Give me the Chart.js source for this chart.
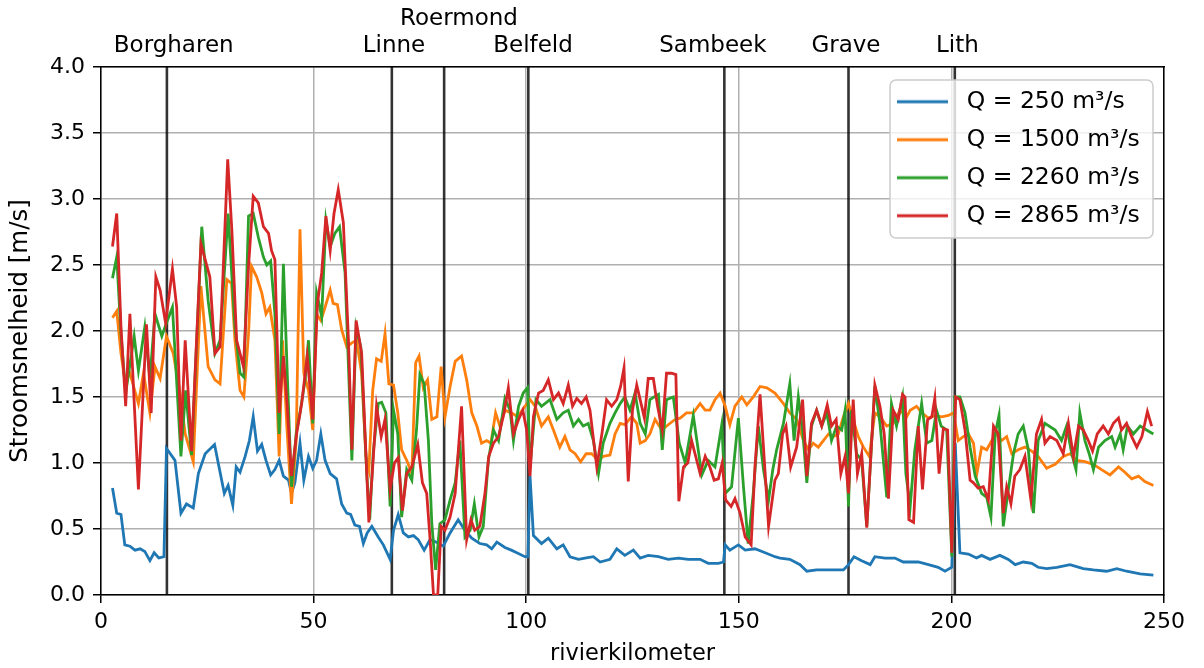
<!DOCTYPE html>
<html>
<head>
<meta charset="utf-8">
<script src="https://cdn.jsdelivr.net/npm/chart.js@4.4.1/dist/chart.umd.min.js"></script>
<style>
  html, body { margin: 0; padding: 0; background: #fff; }
  #wrap { width: 1204px; height: 668px; position: relative; }
</style>
</head>
<body>
<div id="wrap"><canvas id="myChart"></canvas></div>
<script>
// series labels and colours (matplotlib tab10)
const seriesLabels = ['Q = 250 m³/s', 'Q = 1500 m³/s', 'Q = 2260 m³/s', 'Q = 2865 m³/s']
const seriesColors = ['#1f77b4', '#ff7f0e', '#2ca02c', '#d62728']

// [rivierkilometer, stroomsnelheid m/s]
const q250 = [
    [2.7, 0.81], [3.7, 0.62], [4.7, 0.61], [5.6, 0.38], [6.8, 0.37], [8.0, 0.34], [9.2, 0.35], [10.3, 0.33],
    [11.5, 0.26], [12.5, 0.32], [13.6, 0.28], [14.8, 0.29], [15.4, 1.11], [17.4, 1.02], [18.8, 0.62], [20.1, 0.69],
    [21.7, 0.66], [22.9, 0.92], [24.5, 1.07], [26.7, 1.14], [29.0, 0.77], [29.9, 0.83], [31.0, 0.68], [31.8, 0.97],
    [32.7, 0.93], [33.9, 1.05], [34.9, 1.17], [35.8, 1.35], [36.8, 1.09], [37.8, 1.14], [38.8, 1.02], [39.9, 0.91],
    [40.9, 0.95], [41.9, 1.02], [42.9, 0.90], [44.1, 0.87], [44.8, 0.77], [45.6, 0.85], [46.8, 1.15], [47.7, 0.87],
    [48.8, 1.05], [49.8, 0.96], [50.7, 1.02], [51.7, 1.22], [52.7, 1.02], [53.9, 0.92], [55.4, 0.88], [56.6, 0.69],
    [57.8, 0.62], [58.7, 0.61], [59.7, 0.53], [60.8, 0.52], [61.7, 0.39], [62.6, 0.47], [63.7, 0.52], [65.2, 0.44],
    [66.4, 0.38], [68.0, 0.27], [68.8, 0.49], [69.9, 0.61], [71.1, 0.47], [72.3, 0.44], [73.5, 0.45], [74.6, 0.42],
    [76.0, 0.34], [77.4, 0.42], [78.9, 0.40], [80.5, 0.37], [82.1, 0.47], [84.0, 0.57], [85.6, 0.49], [87.2, 0.43],
    [89.1, 0.39], [90.7, 0.38], [91.9, 0.35], [93.1, 0.40], [95.0, 0.36], [96.5, 0.34], [97.8, 0.32], [99.7, 0.29],
    [100.4, 0.29], [100.9, 0.90], [101.7, 0.45], [103.6, 0.39], [105.2, 0.43], [107.2, 0.35], [108.7, 0.38], [110.3, 0.29],
    [112.3, 0.27], [113.8, 0.28], [115.8, 0.29], [117.4, 0.25], [119.7, 0.27], [121.3, 0.35], [123.2, 0.30], [125.2, 0.34],
    [126.8, 0.28], [128.7, 0.30], [131.1, 0.29], [133.4, 0.27], [135.8, 0.28], [138.1, 0.27], [140.9, 0.27], [142.8, 0.24],
    [145.2, 0.24], [146.4, 0.25], [146.8, 0.38], [147.9, 0.34], [149.9, 0.38], [151.5, 0.34], [153.8, 0.35], [156.2, 0.32],
    [158.5, 0.29], [159.7, 0.28], [162.0, 0.27], [164.4, 0.23], [166.0, 0.18], [168.3, 0.19], [170.7, 0.19], [173.0, 0.19],
    [174.6, 0.19], [175.8, 0.23], [177.1, 0.29], [178.9, 0.26], [180.9, 0.23], [182.0, 0.29], [184.4, 0.28], [186.7, 0.28],
    [188.7, 0.25], [190.3, 0.25], [192.2, 0.25], [194.6, 0.23], [196.9, 0.21], [198.5, 0.18], [200.1, 0.21], [200.9, 1.15],
    [202.0, 0.32], [204.0, 0.31], [205.9, 0.28], [207.1, 0.30], [209.1, 0.27], [211.4, 0.30], [213.4, 0.27], [215.0, 0.23],
    [216.9, 0.25], [218.9, 0.24], [220.4, 0.21], [222.4, 0.20], [224.8, 0.21], [227.9, 0.23], [231.0, 0.20], [233.4, 0.19],
    [236.5, 0.18], [238.9, 0.20], [241.2, 0.18], [244.4, 0.16], [247.5, 0.15],
]
const q1500 = [
    [2.7, 2.10], [3.7, 2.15], [4.7, 1.83], [5.6, 1.63], [6.8, 1.68], [8.8, 1.45], [10.0, 1.68], [11.5, 1.38],
    [12.7, 1.73], [13.9, 1.64], [15.4, 1.96], [17.0, 1.83], [18.6, 1.53], [19.8, 1.22], [21.7, 1.01], [23.5, 2.34],
    [25.2, 1.73], [26.8, 1.63], [28.0, 1.60], [29.6, 2.39], [30.7, 2.36], [31.5, 1.93], [32.7, 1.55], [33.6, 1.50],
    [34.7, 1.98], [35.4, 2.49], [36.6, 2.41], [37.8, 2.29], [38.8, 2.13], [39.7, 2.18], [40.9, 1.93], [41.9, 1.05],
    [42.7, 1.93], [43.7, 1.28], [44.8, 0.69], [45.9, 1.17], [46.8, 2.77], [47.7, 1.68], [48.8, 1.55], [49.8, 1.25],
    [50.7, 2.13], [51.7, 2.08], [52.7, 2.18], [53.9, 2.31], [54.6, 2.21], [55.6, 2.20], [56.6, 2.01], [57.8, 1.88],
    [59.0, 1.91], [60.1, 1.93], [61.3, 1.68], [62.3, 1.05], [63.0, 0.95], [63.9, 1.55], [64.8, 1.79], [65.9, 1.77],
    [66.8, 1.98], [67.7, 1.60], [68.8, 1.59], [69.8, 1.38], [70.7, 1.10], [71.9, 1.02], [73.1, 0.92], [74.0, 1.76],
    [74.8, 1.81], [75.8, 1.57], [76.8, 1.63], [77.8, 1.33], [79.0, 1.35], [80.0, 1.73], [80.9, 1.35], [82.1, 1.58],
    [83.3, 1.77], [84.8, 1.81], [86.0, 1.63], [87.2, 1.38], [88.4, 1.28], [89.5, 1.15], [90.7, 1.17], [91.7, 1.15],
    [92.8, 1.38], [93.8, 1.28], [95.0, 1.40], [96.5, 1.38], [98.0, 1.35], [99.7, 1.43], [100.9, 1.48], [102.1, 1.43],
    [103.6, 1.28], [105.2, 1.35], [106.4, 1.25], [107.9, 1.12], [109.1, 1.20], [110.3, 1.10], [111.5, 1.07], [112.8, 1.01],
    [114.1, 1.07], [115.4, 1.07], [117.0, 1.02], [118.1, 1.05], [119.7, 1.06], [120.9, 1.22], [122.1, 1.30], [123.2, 1.29],
    [124.8, 1.35], [126.0, 1.30], [126.8, 1.15], [128.0, 1.17], [129.1, 1.22], [130.3, 1.33], [131.9, 1.25], [133.4, 1.29],
    [135.0, 1.33], [136.2, 1.34], [137.7, 1.38], [139.3, 1.38], [140.9, 1.45], [142.1, 1.40], [143.2, 1.40], [144.4, 1.48],
    [145.6, 1.53], [146.8, 1.43], [147.9, 1.29], [149.1, 1.43], [150.7, 1.50], [151.9, 1.44], [153.4, 1.50], [155.0, 1.58],
    [156.6, 1.57], [158.5, 1.53], [160.5, 1.45], [162.0, 1.38], [163.6, 1.33], [165.2, 1.17], [166.4, 1.10], [167.5, 1.15],
    [168.7, 1.12], [169.9, 1.17], [171.1, 1.22], [172.2, 1.20], [173.4, 1.22], [174.6, 1.35], [175.8, 1.45], [176.9, 1.33],
    [178.1, 1.20], [179.3, 1.12], [180.7, 1.05], [182.0, 1.38], [183.2, 1.35], [184.8, 1.28], [186.3, 1.30], [187.9, 1.40],
    [189.5, 1.35], [190.3, 1.40], [191.8, 1.43], [193.0, 1.38], [194.6, 1.34], [196.1, 1.36], [197.7, 1.35], [199.3, 1.36],
    [200.5, 1.38], [201.6, 1.17], [202.8, 1.20], [204.0, 1.22], [205.2, 1.15], [206.0, 0.92], [207.1, 1.12], [208.3, 1.10],
    [209.5, 1.17], [210.6, 1.22], [211.8, 1.17], [213.0, 1.20], [214.2, 1.07], [215.7, 1.10], [217.3, 1.12], [218.9, 1.09],
    [220.4, 1.05], [222.4, 0.96], [224.4, 0.99], [226.3, 1.05], [227.9, 1.07], [229.5, 1.02], [231.4, 1.01], [233.4, 0.99],
    [235.3, 0.95], [237.3, 0.91], [239.3, 0.97], [240.8, 0.93], [242.4, 0.88], [244.0, 0.90], [245.5, 0.86], [247.5, 0.83],
]
const q2260 = [
    [2.7, 2.40], [3.7, 2.56], [4.7, 1.98], [5.8, 1.53], [7.8, 1.96], [8.8, 1.70], [10.3, 2.03], [11.5, 1.64],
    [12.7, 2.13], [14.3, 1.96], [15.4, 2.06], [16.8, 2.18], [18.8, 1.05], [19.9, 1.55], [21.3, 1.06], [23.7, 2.79],
    [25.2, 2.23], [26.8, 1.83], [28.0, 1.93], [29.9, 2.89], [31.5, 2.03], [32.7, 1.68], [33.6, 1.65], [34.7, 2.87],
    [35.8, 2.89], [37.0, 2.71], [38.2, 2.56], [39.0, 2.50], [39.9, 2.53], [40.9, 2.13], [41.9, 1.22], [42.9, 2.51],
    [43.8, 1.68], [44.8, 0.82], [45.9, 1.22], [46.8, 1.38], [48.0, 1.63], [48.8, 1.93], [49.8, 1.30], [50.7, 2.29],
    [51.9, 2.11], [52.9, 2.84], [53.9, 2.64], [55.0, 2.74], [56.1, 2.79], [57.4, 2.44], [59.0, 1.02], [60.0, 2.03],
    [61.1, 1.88], [62.5, 0.92], [63.2, 0.57], [64.0, 1.07], [65.2, 1.45], [66.0, 1.46], [67.0, 1.38], [68.0, 0.67],
    [68.8, 1.40], [69.8, 1.22], [70.7, 0.59], [71.9, 0.95], [73.1, 0.87], [74.2, 1.25], [75.0, 1.67], [76.0, 1.60],
    [77.0, 1.17], [77.8, 0.54], [78.7, 0.19], [79.7, 0.54], [80.9, 0.57], [82.1, 0.72], [83.3, 0.85], [84.4, 1.17],
    [85.6, 0.44], [86.8, 0.49], [87.8, 0.69], [88.9, 0.44], [89.9, 0.52], [91.1, 1.02], [92.3, 1.25], [93.5, 1.17],
    [95.0, 1.49], [96.2, 1.40], [97.0, 1.17], [98.2, 1.43], [99.3, 1.53], [100.3, 1.57], [100.9, 0.97], [102.3, 1.48],
    [103.6, 1.43], [105.6, 1.48], [107.2, 1.33], [108.7, 1.38], [109.9, 1.40], [111.1, 1.28], [112.3, 1.33], [113.4, 1.28],
    [114.6, 1.30], [115.8, 1.17], [117.0, 0.92], [118.1, 1.15], [119.7, 1.30], [120.9, 1.38], [122.1, 1.45], [123.2, 1.50],
    [124.4, 1.40], [125.6, 1.53], [126.8, 1.30], [128.0, 1.22], [129.1, 1.48], [131.1, 1.52], [132.0, 1.10], [133.0, 1.48],
    [134.6, 1.50], [136.0, 1.15], [137.4, 1.00], [139.3, 1.36], [141.3, 0.91], [142.8, 1.02], [144.4, 0.97], [146.0, 1.29],
    [146.8, 0.77], [148.3, 0.82], [149.9, 1.34], [151.1, 0.82], [152.2, 0.39], [153.4, 0.77], [154.6, 1.28], [155.8, 0.95],
    [157.0, 0.72], [158.0, 0.95], [158.9, 1.10], [160.5, 1.30], [162.0, 1.60], [163.0, 1.17], [164.0, 1.50], [165.0, 1.25],
    [166.0, 0.85], [167.1, 1.28], [168.3, 1.40], [169.5, 1.28], [170.7, 1.38], [171.8, 1.17], [173.0, 1.28], [174.2, 1.25],
    [175.0, 1.40], [175.8, 0.67], [176.5, 1.40], [177.7, 1.07], [178.9, 1.02], [180.1, 0.52], [182.0, 1.58], [183.2, 1.30],
    [184.8, 0.74], [185.9, 1.45], [187.1, 1.28], [188.5, 1.50], [189.3, 0.92], [190.3, 0.67], [191.4, 1.10], [193.0, 1.45],
    [194.2, 1.15], [195.4, 1.17], [196.5, 1.40], [197.6, 1.28], [198.9, 1.25], [200.1, 0.29], [200.8, 1.50], [202.0, 1.50],
    [203.2, 1.38], [204.4, 1.12], [205.6, 0.90], [207.1, 0.77], [208.3, 0.74], [209.3, 0.59], [210.3, 1.22], [211.2, 1.36],
    [212.2, 0.52], [213.4, 0.80], [214.6, 1.07], [215.7, 1.22], [216.9, 1.28], [218.1, 1.10], [219.3, 0.62], [220.4, 1.17],
    [222.0, 1.30], [224.4, 1.25], [225.9, 1.17], [227.1, 1.28], [228.3, 1.07], [229.3, 0.95], [230.2, 1.38], [231.4, 1.17],
    [232.4, 1.07], [233.4, 0.95], [234.6, 1.12], [236.1, 1.17], [237.7, 1.20], [238.5, 1.12], [239.7, 1.22], [240.4, 1.10],
    [241.4, 1.28], [242.8, 1.22], [244.4, 1.28], [245.9, 1.25], [247.5, 1.22],
]
const q2865 = [
    [2.7, 2.64], [3.7, 2.89], [4.7, 2.03], [5.8, 1.43], [6.8, 2.13], [8.8, 0.80], [10.7, 2.05], [11.8, 1.38],
    [12.9, 2.41], [13.9, 2.31], [15.2, 2.06], [16.8, 2.47], [17.8, 2.18], [18.8, 1.17], [19.8, 1.93], [21.3, 1.09],
    [23.5, 2.66], [25.6, 2.41], [26.8, 1.83], [28.0, 1.88], [29.8, 3.30], [30.8, 2.75], [31.9, 1.93], [33.5, 1.73],
    [34.7, 2.49], [35.8, 3.02], [37.0, 2.97], [38.2, 2.79], [39.4, 2.74], [40.1, 2.61], [40.9, 2.54], [41.9, 1.38],
    [42.9, 1.81], [43.8, 1.43], [44.8, 0.90], [46.0, 1.22], [47.2, 1.45], [48.5, 1.81], [49.8, 1.33], [50.9, 2.21],
    [51.9, 2.44], [52.9, 2.87], [53.9, 2.61], [54.8, 2.89], [55.8, 3.07], [57.0, 2.82], [58.2, 1.93], [59.0, 1.10],
    [60.0, 2.08], [61.3, 1.83], [62.5, 0.92], [63.0, 0.55], [64.0, 1.02], [64.8, 1.43], [65.9, 1.20], [66.8, 1.33],
    [68.0, 0.80], [69.0, 1.00], [69.9, 1.04], [70.9, 0.64], [71.9, 0.92], [73.1, 0.97], [74.5, 1.14], [75.6, 0.85],
    [76.6, 0.77], [77.4, 0.42], [78.2, 0.00], [79.2, 0.00], [80.0, 0.52], [80.9, 0.49], [82.1, 0.59], [83.3, 0.77],
    [84.8, 1.43], [86.0, 0.42], [87.0, 0.57], [87.9, 0.49], [89.1, 0.52], [90.3, 0.77], [91.2, 1.05], [92.3, 1.15],
    [93.5, 1.20], [94.8, 1.38], [95.8, 1.57], [97.0, 1.22], [98.2, 1.33], [99.2, 1.40], [100.1, 1.25], [100.9, 0.90],
    [101.7, 1.35], [102.9, 1.53], [104.0, 1.55], [105.2, 1.63], [106.4, 1.48], [107.6, 1.53], [108.7, 1.45], [109.9, 1.59],
    [110.9, 1.43], [111.9, 1.49], [113.0, 1.45], [114.1, 1.50], [115.0, 1.40], [116.6, 0.97], [117.8, 1.22], [118.9, 1.48],
    [120.1, 1.43], [121.3, 1.48], [122.2, 1.58], [123.0, 1.72], [124.0, 0.86], [125.0, 1.40], [126.0, 1.59], [126.8, 1.48],
    [127.8, 1.34], [128.7, 1.64], [129.9, 1.64], [130.9, 1.43], [132.0, 1.25], [133.0, 1.68], [134.2, 1.68], [135.2, 1.67],
    [135.9, 0.71], [137.0, 0.97], [138.0, 1.00], [138.9, 1.17], [139.7, 1.07], [140.9, 0.92], [142.1, 1.05], [143.2, 0.97],
    [144.2, 0.87], [145.2, 0.88], [146.1, 1.00], [146.9, 0.72], [148.2, 0.67], [149.1, 0.73], [150.3, 0.62], [151.5, 0.44],
    [152.9, 0.38], [153.8, 0.97], [155.0, 1.52], [157.0, 0.52], [158.5, 0.87], [159.3, 0.92], [160.3, 1.22], [161.1, 1.28],
    [162.2, 0.97], [163.6, 1.12], [165.0, 1.48], [166.0, 0.90], [167.1, 1.30], [168.3, 1.40], [169.5, 1.28], [170.8, 1.44],
    [171.8, 1.28], [172.9, 1.33], [174.0, 0.92], [175.0, 1.05], [175.8, 0.77], [176.9, 1.48], [177.9, 0.92], [178.9, 1.07],
    [180.1, 0.51], [182.0, 1.59], [183.2, 1.43], [184.2, 1.22], [185.2, 0.73], [186.3, 1.40], [187.5, 1.33], [188.5, 1.52],
    [189.1, 1.50], [190.0, 0.57], [191.1, 0.55], [192.2, 1.28], [193.2, 0.80], [194.4, 1.33], [195.4, 1.35], [196.1, 1.49],
    [197.1, 0.92], [198.1, 1.26], [199.1, 1.25], [200.1, 0.32], [201.0, 1.50], [202.0, 1.48], [203.2, 1.25], [204.4, 0.87],
    [205.2, 0.85], [206.3, 0.81], [207.5, 0.82], [208.7, 0.72], [209.9, 1.28], [211.0, 1.22], [212.2, 0.62], [213.0, 0.82],
    [214.0, 0.69], [214.9, 0.90], [216.1, 0.95], [217.3, 1.05], [218.7, 0.72], [220.0, 1.22], [221.2, 1.33], [222.0, 1.15],
    [223.2, 1.20], [224.8, 1.17], [226.3, 1.07], [227.5, 1.30], [228.7, 1.05], [229.9, 1.28], [231.0, 1.25], [232.2, 1.17],
    [233.2, 1.09], [234.3, 1.22], [235.7, 1.28], [236.9, 1.22], [238.1, 1.30], [239.3, 1.34], [240.0, 1.25], [241.2, 1.30],
    [242.4, 1.20], [243.6, 1.12], [244.8, 1.20], [246.1, 1.39], [247.1, 1.28],
]

// stations: vertical marker lines and the names shown above the plot
const stationKm = [15.5, 68.4, 80.7, 100.5, 146.6, 175.8, 200.8]
const stationLabelKm = [17.1, 68.9, 84.2, 101.6, 143.9, 175.2, 201.4]
const stationNames = ['Borgharen', 'Linne', ['Roermond', ''], 'Belfeld', 'Sambeek', 'Grave', 'Lith']

const xTicks = [0, 50, 100, 150, 200, 250]
const yTicks = [0, 0.5, 1.0, 1.5, 2.0, 2.5, 3.0, 3.5, 4.0]

Chart.defaults.font.family = "'DejaVu Sans', sans-serif"
Chart.defaults.font.size = 22
Chart.defaults.color = '#000'

// legend sample: a short line segment with some empty space after it
function legendSample(color) {
    const c = document.createElement('canvas')
    c.width = 58
    c.height = 6
    const g = c.getContext('2d')
    g.strokeStyle = color
    g.lineWidth = 2.8
    g.beginPath()
    g.moveTo(0, 3)
    g.lineTo(51, 3)
    g.stroke()
    return c
}

// draw the legend above the datasets, on a translucent rounded box
const legendBox = {
    id: 'legendBox',
    beforeUpdate(chart) {
        const lg = chart.legend
        if (!lg || lg._boxed) return
        lg._boxed = true
        lg._layers = () => [{
            z: 1,
            draw() {
                const ctx = chart.ctx
                ctx.save()
                ctx.beginPath()
                ctx.roundRect(lg.left + 7.5, lg.top + 4.5, 263, 158, 6)
                ctx.fillStyle = 'rgba(255,255,255,0.8)'
                ctx.fill()
                ctx.strokeStyle = '#cccccc'
                ctx.lineWidth = 1.5
                ctx.stroke()
                ctx.restore()
                lg.draw()
            },
        }]
    },
    afterLayout(chart) {
        const lg = chart.legend
        const a = chart.chartArea
        lg.left = a.right - 281.5
        lg.top = a.top + 8.5
        lg.right = lg.left + lg.width
        lg.bottom = lg.top + 220
    },
}

function fixSize(prop, px) {
    return s => { s[prop] = px }
}

function render_chart() {
    const seriesData = [q250, q1500, q2260, q2865]
    const datasets = seriesData.map((pts, i) => ({
        label: seriesLabels[i],
        data: pts.map(p => ({ x: p[0], y: p[1] })),
        borderColor: seriesColors[i],
        backgroundColor: seriesColors[i],
        borderWidth: 2.8,
        pointRadius: 0,
        pointStyle: legendSample(seriesColors[i]),
        tension: 0,
        order: 4 - i,
    }))
    stationKm.forEach(km => {
        datasets.push({
            label: '',
            data: [{ x: km, y: 0 }, { x: km, y: 4 }],
            borderColor: 'rgba(0,0,0,0.8)',
            borderWidth: 2.6,
            pointRadius: 0,
            order: 10,
        })
    })

    const config = {
        type: 'line',
        data: { datasets: datasets },
        options: {
            responsive: true,
            maintainAspectRatio: false,
            animation: false,
            events: [],
            layout: { padding: 0, autoPadding: false },
            scales: {
                x: {
                    type: 'linear',
                    position: 'bottom',
                    min: 0,
                    max: 250,
                    afterBuildTicks: s => { s.ticks = xTicks.map(v => ({ value: v })) },
                    afterFit: fixSize('height', 73),
                    ticks: { callback: v => String(v), padding: 6, maxRotation: 0 },
                    grid: { color: '#b0b0b0', lineWidth: 1.5, tickColor: '#000', tickLength: 8 },
                    border: { color: '#000', width: 1.5 },
                    title: {
                        display: true,
                        text: 'rivierkilometer',
                        font: { size: 22.5 },
                        padding: { top: 0, bottom: 0 },
                    },
                },
                x2: {
                    type: 'linear',
                    position: 'top',
                    min: 0,
                    max: 250,
                    afterBuildTicks: s => { s.ticks = stationLabelKm.map(v => ({ value: v })) },
                    afterFit: fixSize('height', 67),
                    ticks: {
                        callback: (v, i) => stationNames[i],
                        autoSkip: false,
                        maxRotation: 0,
                        minRotation: 0,
                        padding: 7,
                        font: { size: 23 },
                    },
                    grid: { display: false, drawTicks: false },
                    border: { display: true, color: '#000', width: 1.5 },
                },
                y: {
                    min: 0,
                    max: 4,
                    afterBuildTicks: s => { s.ticks = yTicks.map(v => ({ value: v })) },
                    afterFit: fixSize('width', 101),
                    ticks: { callback: v => v.toFixed(1), padding: 8 },
                    grid: { color: '#b0b0b0', lineWidth: 1.5, tickColor: '#000', tickLength: 8 },
                    border: { color: '#000', width: 1.5 },
                    title: {
                        display: true,
                        text: 'Stroomsnelheid [m/s]',
                        font: { size: 24.5 },
                        padding: { top: 6, bottom: 0 },
                    },
                },
                y2: {
                    position: 'right',
                    min: 0,
                    max: 4,
                    afterFit: fixSize('width', 40),
                    ticks: { display: false },
                    grid: { display: false, drawTicks: false },
                    border: { display: true, color: '#000', width: 1.5 },
                },
            },
            plugins: {
                legend: {
                    position: 'chartArea',
                    align: 'start',
                    labels: {
                        usePointStyle: true,
                        pointStyleWidth: 58,
                        padding: 14.5,
                        color: '#000',
                        font: { size: 23.5 },
                        filter: item => item.datasetIndex < 4,
                        sort: (a, b) => a.datasetIndex - b.datasetIndex,
                    },
                },
                tooltip: { enabled: false },
            },
        },
        plugins: [legendBox],
    }
    const myChart = new Chart(document.getElementById('myChart'), config)
}
document.addEventListener('DOMContentLoaded', render_chart)
</script>
</body>
</html>
